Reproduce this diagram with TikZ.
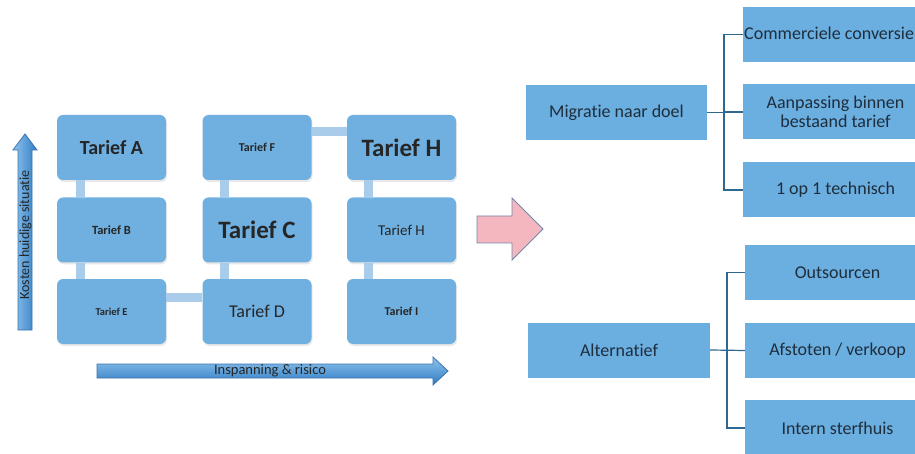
\documentclass[tikz,border=0pt]{standalone}
\usepackage{fontspec}
\setmainfont{Carlito}[Ligatures=NoCommon]
\usetikzlibrary{calc,shadows}
\definecolor{boxblue}{HTML}{6FB0E1}
\definecolor{rboxblue}{HTML}{6BAEE0}
\definecolor{connblue}{HTML}{A9CCEB}
\definecolor{linedark}{HTML}{2E6890}
\definecolor{txtdark}{HTML}{262626}
\definecolor{rtxt}{HTML}{1E2E3C}
\definecolor{arrowlight}{HTML}{8EC3EC}
\definecolor{arrowdark}{HTML}{2F7CC4}
\definecolor{arrowedge}{HTML}{3A74AE}
\definecolor{pinkfill}{HTML}{F4B7BF}
\definecolor{pinkedge}{HTML}{7088A8}
\definecolor{shadowgray}{HTML}{D4D8DC}
\tikzset{
  tbox/.style={rounded corners=6pt, fill=boxblue, minimum width=109pt, minimum height=65pt,
    inner sep=0pt, text=txtdark, drop shadow={shadow xshift=1pt, shadow yshift=-2pt, opacity=0.18}},
  rbox/.style={fill=rboxblue, minimum height=55pt, inner sep=0pt, text=rtxt, align=center,
    font=\fontsize{18}{19}\selectfont},
  conn/.style={draw=connblue, line width=9pt},
  tline/.style={draw=linedark, line width=1.2pt},
  bigarrow/.style={draw=arrowedge, line width=0.8pt},
}
\begin{document}
\begin{tikzpicture}[x=1pt,y=-1pt]
\useasboundingbox (0,0) rectangle (915,454);
% tariff boxes
\node[tbox, font=\bfseries\fontsize{20}{22}\selectfont] (A) at (111.5,147.5) {Tarief A};
\node[tbox, font=\bfseries\fontsize{12.5}{14}\selectfont] (B) at (111.5,230) {Tarief B};
\node[tbox, font=\bfseries\fontsize{10.5}{12}\selectfont] (E) at (111.5,311.5) {Tarief E};
\node[tbox, font=\bfseries\fontsize{12}{14}\selectfont] (F) at (257,147.5) {Tarief F};
\node[tbox, font=\bfseries\fontsize{25}{27}\selectfont] (C) at (257,230) {Tarief C};
\node[tbox, font=\fontsize{18}{20}\selectfont] (D) at (257,311.5) {Tarief D};
\node[tbox, font=\bfseries\fontsize{25}{27}\selectfont] (H1) at (401.5,147.5) {Tarief H};
\node[tbox, font=\fontsize{15}{17}\selectfont] (H2) at (401.5,230) {Tarief H};
\node[tbox, font=\bfseries\fontsize{12}{14}\selectfont] (I) at (401.5,311.5) {Tarief I};
% connectors between boxes
\draw[conn] ($(A.south)+(-31,0)$) -- ($(B.north)+(-31,0)$);
\draw[conn] ($(B.south)+(-31,0)$) -- ($(E.north)+(-31,0)$);
\draw[conn] ($(F.south)+(-33,0)$) -- ($(C.north)+(-33,0)$);
\draw[conn] ($(C.south)+(-33,0)$) -- ($(D.north)+(-33,0)$);
\draw[conn] ($(H1.south)+(-33,0)$) -- ($(H2.north)+(-33,0)$);
\draw[conn] ($(H2.south)+(-33,0)$) -- ($(I.north)+(-33,0)$);
\draw[conn] ($(E.east)+(0,-14.5)$) -- ($(D.west)+(0,-14.5)$);
\draw[conn] ($(F.east)+(0,-15.5)$) -- ($(H1.west)+(0,-15.5)$);
% vertical axis arrow
\shade[bigarrow, left color=arrowlight, right color=arrowdark]
  (18,330) -- (18,150) -- (13,150) -- (25,134) -- (37,150) -- (32,150) -- (32,330) -- cycle;
\node[rotate=90, text=txtdark, font=\fontsize{14}{15}\selectfont, inner sep=0pt] (ylab) at (25.5,235) {Kosten huidige situatie};
% horizontal axis arrow
\shade[bigarrow, top color=arrowlight, bottom color=arrowdark]
  (97,364) -- (433,364) -- (433,357) -- (448,371) -- (433,385) -- (433,378) -- (97,378) -- cycle;
\node[text=txtdark, font=\fontsize{14.5}{15}\selectfont, inner sep=0pt] (xlab) at (270,371) {Inspanning \& risico};
% pink arrow
\draw[fill=pinkfill, draw=pinkedge, line width=0.8pt]
  (477,216) -- (512,216) -- (512,198) -- (543,229) -- (512,260) -- (512,243) -- (477,243) -- cycle;
% right tree 1
\node[rbox, minimum width=181pt] (mig) at (616.5,112.5) {Migratie naar doel};
\node[rbox, minimum width=185pt] (com) at (835.5,34.5) {};
\node[anchor=west, text=rtxt, font=\fontsize{18}{19}\selectfont, inner sep=0pt] (comt) at (744,33) {Commerciele conversie};
\node[rbox, minimum width=185pt] (aan) at (835.5,112) {Aanpassing binnen\\bestaand tarief};
\node[rbox, minimum width=185pt] (tec) at (835.5,190) {1 op 1 technisch};
\coordinate (j1) at (724,112.5);
\draw[tline] (mig.east) -- (j1);
\draw[tline] (j1) |- (com.west);
\draw[tline] (j1) |- (aan.west);
\draw[tline] (j1) |- (tec.west);
% right tree 2
\node[rbox, minimum width=182pt] (alt) at (619,350) {Alternatief};
\node[rbox, minimum width=185pt] (out) at (837.5,272.5) {Outsourcen};
\node[rbox, minimum width=185pt] (afs) at (837.5,350.5) {Afstoten / verkoop};
\node[rbox, minimum width=185pt, minimum height=56pt] (int) at (837.5,428) {Intern sterfhuis};
\coordinate (j2) at (727,350);
\draw[tline] (alt.east) -- (afs.west);
\draw[tline] (j2) |- (out.west);
\draw[tline] (j2) |- (int.west);
\end{tikzpicture}
\end{document}
